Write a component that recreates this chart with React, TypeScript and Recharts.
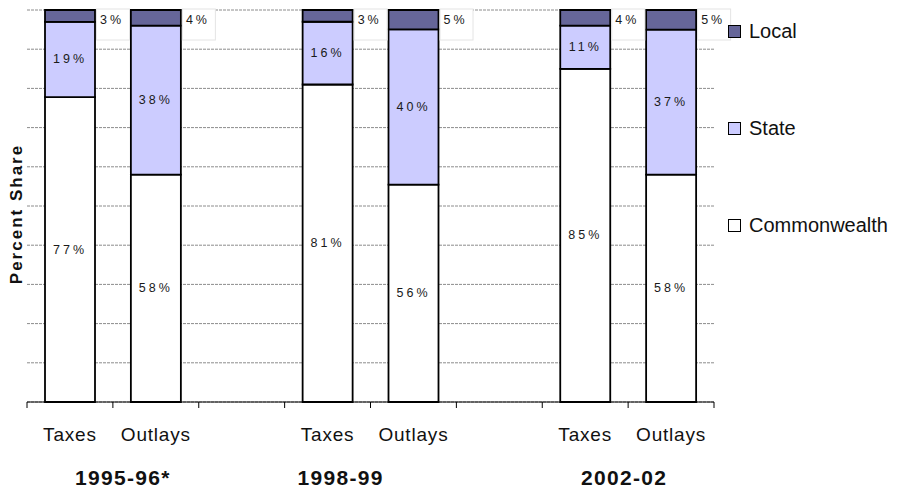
import React from 'react';
import { BarChart, Bar, XAxis, YAxis, CartesianGrid, Legend, LabelList } from 'recharts';

const categories = ['Taxes', 'Outlays', '', 'Taxes', 'Outlays', '', 'Taxes', 'Outlays'];
const years = ['1995-96*', '', '', '1998-99', '', '', '2002-02', ''];
const commonwealth = [77, 58, null, 81, 56, null, 85, 58];
const state = [19, 38, null, 16, 40, null, 11, 37];
const local = [3, 4, null, 3, 5, null, 4, 5];
const yTicks = [0, 0.1, 0.2, 0.3, 0.4, 0.5, 0.6, 0.7, 0.8, 0.9, 1];

const data = categories.map((name, i) => ({
  name,
  commonwealth: commonwealth[i],
  state: state[i],
  local: local[i],
}));

const FONT = '"Liberation Sans", Arial, sans-serif';
const W = 882;
const H = 487;
const MARGIN = { top: 2, right: 176, bottom: 8, left: 0 };
const Y_W = 19;
const HALF_BAND = (W - MARGIN.right - MARGIN.left - Y_W) / categories.length / 2;
// year captions are not centred under their pair in the original
const YEAR_DX = [53, 0, 0, 13, 0, 0, 39, 0];

const CategoryTick = (props: any) => {
  const { x, y, index } = props;
  const last = index === categories.length - 1;
  return (
    <g>
      <line x1={x - HALF_BAND} x2={x - HALF_BAND} y1={y} y2={y + 6} stroke="#000" />
      {last && <line x1={x + HALF_BAND} x2={x + HALF_BAND} y1={y} y2={y + 6} stroke="#000" />}
      <text x={x} y={y + 39} textAnchor="middle" fontFamily={FONT} fontSize={19} letterSpacing={0.8} fill="#111">
        {categories[index]}
      </text>
      {years[index] && (
        <text
          x={x + YEAR_DX[index]}
          y={y + 83}
          textAnchor="middle"
          fontFamily={FONT}
          fontSize={21}
          fontWeight="bold"
          letterSpacing={1.3}
          fill="#111"
        >
          {years[index]}
        </text>
      )}
    </g>
  );
};

const InnerLabel = (props: any) => {
  const { x, y, width, height, value } = props;
  if (value == null) return null;
  return (
    <text
      x={x + width / 2}
      y={y + height / 2}
      textAnchor="middle"
      dominantBaseline="central"
      fontFamily={FONT}
      fontSize={12.5}
      letterSpacing={3}
      fill="#1a1a1a"
    >
      {value}%
    </text>
  );
};

const LocalLabel = (props: any) => {
  const { x, y, width, value } = props;
  if (value == null) return null;
  return (
    <g>
      <rect x={x + width + 1.5} y={y - 1} width={33} height={31} fill="#fff" stroke="#e4e4e4" strokeWidth={1} />
      <text
        x={x + width + 5}
        y={y + 10}
        dominantBaseline="central"
        fontFamily={FONT}
        fontSize={12.5}
        letterSpacing={3}
        fill="#1a1a1a"
      >
        {value}%
      </text>
    </g>
  );
};

const legendItems = [
  { name: 'Local', color: '#666699' },
  { name: 'State', color: '#ccccff' },
  { name: 'Commonwealth', color: '#ffffff' },
];

const ChartLegend = () => (
  <div style={{ fontFamily: FONT, fontSize: 20, color: '#111' }}>
    {legendItems.map((it) => (
      <div key={it.name} style={{ display: 'flex', alignItems: 'center', height: 24, marginBottom: 73 }}>
        <span
          style={{
            display: 'inline-block',
            width: 11,
            height: 11,
            background: it.color,
            border: '1.5px solid #000',
            marginRight: 8,
          }}
        />
        <span>{it.name}</span>
      </div>
    ))}
  </div>
);

const App: React.FC = () => {
  return (
    <div style={{ width: W, height: H - 8 }}>
      <BarChart width={W} height={H} data={data} margin={MARGIN} stackOffset="expand" barSize={50}>
        <CartesianGrid vertical={false} stroke="#8c8c8c" strokeDasharray="3 1" />
        <XAxis
          dataKey="name"
          interval={0}
          tick={<CategoryTick />}
          tickLine={false}
          tickSize={0}
          tickMargin={0}
          axisLine={{ stroke: '#000', strokeWidth: 1 }}
          height={85}
        />
        <YAxis
          width={Y_W}
          type="number"
          domain={[0, 1]}
          ticks={yTicks}
          tickFormatter={() => ''}
          tickLine={false}
          axisLine={false}
          label={{
            value: 'Percent Share',
            angle: -90,
            position: 'insideLeft',
            dx: 3,
            dy: 8,
            style: { fontFamily: FONT, fontSize: 17, fontWeight: 'bold', letterSpacing: 2, fill: '#111', textAnchor: 'middle' },
          }}
        />
        <Legend
          layout="vertical"
          align="center"
          verticalAlign="middle"
          content={<ChartLegend />}
          wrapperStyle={{ left: 720, top: 11, width: 170 }}
        />
        <Bar dataKey="commonwealth" stackId="a" fill="#ffffff" stroke="#000" strokeWidth={1.8} isAnimationActive={false}>
          <LabelList dataKey="commonwealth" content={<InnerLabel />} />
        </Bar>
        <Bar dataKey="state" stackId="a" fill="#ccccff" stroke="#000" strokeWidth={1.8} isAnimationActive={false}>
          <LabelList dataKey="state" content={<InnerLabel />} />
        </Bar>
        <Bar dataKey="local" stackId="a" fill="#666699" stroke="#000" strokeWidth={1.8} isAnimationActive={false}>
          <LabelList dataKey="local" content={<LocalLabel />} />
        </Bar>
      </BarChart>
    </div>
  );
};

export default App;
